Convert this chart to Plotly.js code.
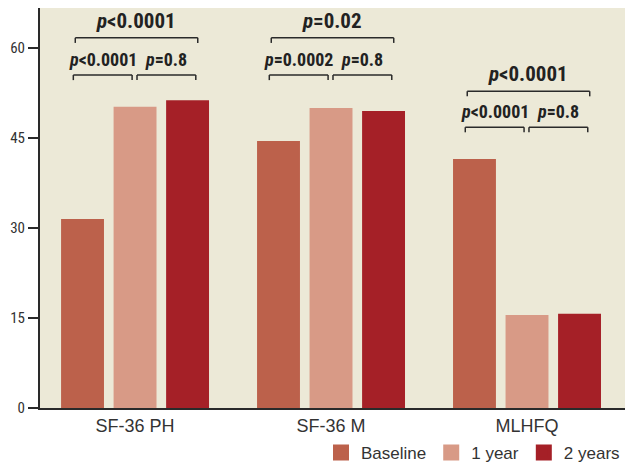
<!DOCTYPE html>
<html><head><meta charset="utf-8">
<script src="https://cdn.plot.ly/plotly-3.0.1.min.js"></script>
<style>html,body{margin:0;padding:0;background:#fff}</style>
</head><body><div id="chart" style="width:625px;height:464px"></div>
<script>
const categories = ['SF-36 PH', 'SF-36 M', 'MLHFQ'];
const seriesNames = ['Baseline', '1 year', '2 years'];
const baseline = [31.5, 44.5, 41.5];
const year1 = [50.2, 50.0, 15.5];
const year2 = [51.3, 49.5, 15.7];
const pOverall = ['<0.0001', '=0.02', '<0.0001'];
const pBaseVs1 = ['<0.0001', '=0.0002', '<0.0001'];
const p1Vs2 = ['=0.8', '=0.8', '=0.8'];
const tickVals = [0, 15, 30, 45, 60];

const colors = ['#BC614B', '#D89A86', '#A52027'];
const narrow = '"Roboto Condensed", "Liberation Sans Narrow", "Liberation Sans", sans-serif';
const regular = '"Liberation Sans", Arial, sans-serif';
const values = [baseline, year1, year2];
const traces = values.map((v, i) => ({
  type: 'bar', x: categories, y: v, name: seriesNames[i], showlegend: false,
  marker: {color: colors[i]}, hoverinfo: 'none'
}));
// legend-only entries (larger swatches), on a hidden overlay axis
seriesNames.forEach((n, i) => traces.push({
  type: 'bar', x: [categories[0]], y: [null], name: n, xaxis: 'x2', yaxis: 'y2',
  marker: {color: colors[i], line: {color: colors[i], width: 4}}, hoverinfo: 'none'
}));

// bracket levels (y-data units) for lower and upper brackets
const lowerLevel = [55.5, 55.5, 46.8];
const upperLevel = [61.7, 61.7, 52.8];
const tick = 0.85;
const shapes = [], annotations = [];
const lineStyle = {color: '#2a2a2a', width: 1.5};
function bracket(x0, x1, y) {
  shapes.push({type: 'line', xref: 'x', yref: 'y', x0: x0, x1: x1, y0: y, y1: y, line: lineStyle});
  shapes.push({type: 'line', xref: 'x', yref: 'y', x0: x0, x1: x0, y0: y, y1: y - tick, line: lineStyle});
  shapes.push({type: 'line', xref: 'x', yref: 'y', x0: x1, x1: x1, y0: y, y1: y - tick, line: lineStyle});
}
function ptext(s) { return '<b><i>p</i>' + s.replace('<', '&lt;') + '</b>'; }
categories.forEach((c, i) => {
  const lo = lowerLevel[i], up = upperLevel[i];
  bracket(i - 0.315, i - 0.015, lo);
  bracket(i + 0.01, i + 0.31, lo);
  bracket(i - 0.305, i + 0.32, up);
  annotations.push({x: i - 0.165, y: lo, xref: 'x', yref: 'y', yanchor: 'bottom', yshift: 3,
    text: ptext(pBaseVs1[i]), showarrow: false, font: {family: narrow, size: 18, color: '#222'}});
  annotations.push({x: i + 0.16, y: lo, xref: 'x', yref: 'y', yanchor: 'bottom', yshift: 3,
    text: ptext(p1Vs2[i]), showarrow: false, font: {family: narrow, size: 18, color: '#222'}});
  annotations.push({x: i + 0.005, y: up, xref: 'x', yref: 'y', yanchor: 'bottom', yshift: 3,
    text: ptext(pOverall[i]), showarrow: false, font: {family: narrow, size: 21, color: '#222'}});
});

const layout = {
  width: 625, height: 464,
  margin: {l: 40, r: 0, t: 8, b: 56},
  paper_bgcolor: '#ffffff', plot_bgcolor: '#ECE9D7',
  barmode: 'group', bargap: 0.196, bargroupgap: 0.183,
  font: {family: regular, color: '#333'},
  xaxis: {type: 'category', range: [-0.485, 2.5], showline: true, linecolor: '#2a2a2a', linewidth: 2,
    ticks: '', tickfont: {family: regular, size: 18, color: '#333'}, showgrid: false, zeroline: false, fixedrange: true,
    automargin: false},
  yaxis: {range: [0, 66.67], tickvals: tickVals, ticktext: tickVals.map(String), showline: true,
    linecolor: '#2a2a2a', linewidth: 2, ticks: 'outside', ticklen: 10, tickwidth: 1.5, tickcolor: '#2a2a2a',
    tickfont: {family: narrow, size: 15, color: '#333'}, showgrid: false, zeroline: false, fixedrange: true,
    automargin: false},
  xaxis2: {overlaying: 'x', type: 'category', visible: false, fixedrange: true},
  yaxis2: {overlaying: 'y', range: [0, 1], visible: false, fixedrange: true},
  legend: {orientation: 'h', x: 1.028, xanchor: 'right', yref: 'container', y: 0.024, yanchor: 'middle',
    font: {family: regular, size: 17, color: '#333'}, bgcolor: 'rgba(0,0,0,0)', itemwidth: 30, tracegroupgap: 0},
  shapes: shapes, annotations: annotations, showlegend: true
};
Plotly.newPlot('chart', traces, layout, {displayModeBar: false, staticPlot: true});
</script></body></html>
